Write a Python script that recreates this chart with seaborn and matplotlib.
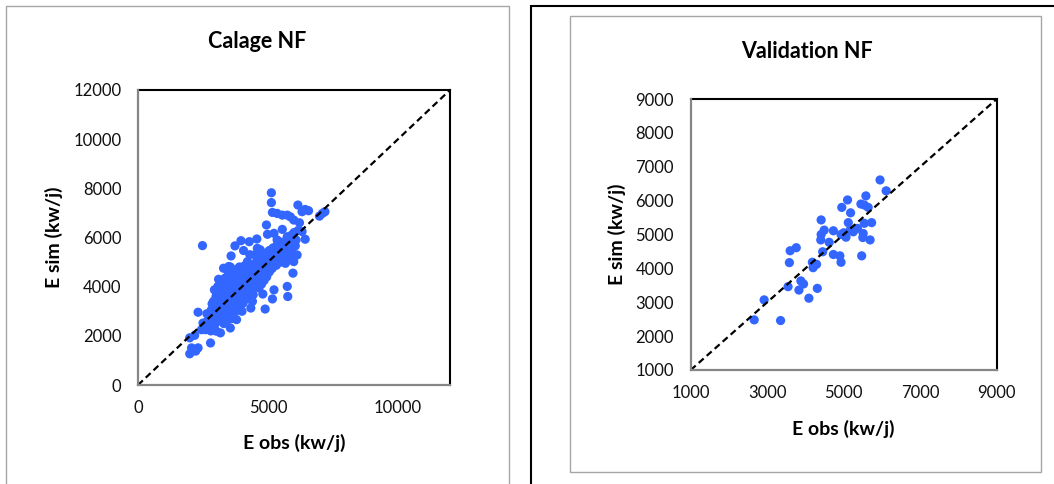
import numpy as np
import pandas as pd
import matplotlib
matplotlib.use("Agg")
import matplotlib.pyplot as plt
from matplotlib.patches import Rectangle
import seaborn as sns

# Calage NF : E obs / E sim (kw/j)
calage_obs = [5130, 5130, 5170, 5350, 5550, 5740, 5860, 6150, 6310, 6430, 6560, 6980, 7190, 7090,
              5990, 6210, 6310, 6430, 6050, 5950, 6120, 5990, 5670, 5960, 5740, 5760, 5170, 4890,
              2480, 4940, 4980, 4570, 4280, 3960, 3730, 4060, 3580, 4590, 5230, 5550, 5350, 5740,
              5550, 5100, 4850, 4210, 3290, 3490, 3640, 3390, 3810, 2940, 3070, 3710, 4430, 5230,
              4340, 3790, 3550, 3170, 2790, 2310, 2180, 1990, 2060, 2310, 2220, 1990, 2440, 2500,
              2690, 2840, 3010,
              2750, 2820, 2870, 2910, 2960, 3010, 3040, 3080, 3120, 3150, 3190, 3230, 3260, 3290,
              3320, 3350, 3380, 3410, 3440, 3470, 3500, 3530, 3560, 3590, 3620, 3650, 3680, 3710,
              3740, 3770, 3800, 3830, 3860, 3890, 3920, 3950, 3980, 4010, 4040, 4070, 4100, 4130,
              4160, 4190, 4220, 4250, 4280, 4310, 4340, 4370, 4400, 4430, 4460, 4490, 4520, 4550,
              4580, 4610, 4640, 4670, 4700, 4730, 4760, 4790, 4820, 4850, 4880, 4910, 4940, 4970,
              5000, 5040, 5080, 5120, 5160, 5200, 5240, 5280, 5320, 5360, 5400, 5450, 5500, 5550,
              5600, 5650, 5700, 5750, 5800, 5850, 5900, 5950, 6000, 6080, 6150,
              3100, 3200, 3300, 3400, 3500, 3600, 3700, 3800, 3900, 4000, 4100, 4200, 4300, 4400,
              4500, 4600, 4700, 4800, 2900, 3000, 3100, 3200, 3300, 3350, 3450, 3550, 3400, 3600,
              3700, 3800, 3900, 4000, 4100, 4200, 3200, 3300, 3500, 3650, 3750, 3850, 3950, 4050,
              4150, 4250, 4350, 4450, 4550, 4650, 4750, 4850, 4950, 5050, 2700, 2600, 2950, 3050,
              2650, 2850,
              3300, 3600, 4000, 4400, 4800, 3100, 3500, 3900, 4300, 4700, 4500, 3800, 2800, 3400]
calage_sim = [7820, 7420, 7020, 6980, 6910, 6910, 6840, 7320, 7050, 7140, 7090, 6870, 7050, 6980,
              6710, 6600, 6240, 5930, 5660, 5290, 5290, 5020, 4950, 4550, 4010, 3600, 3500, 3090,
              5670, 6510, 6130, 5940, 5830, 5870, 5660, 5470, 5250, 5560, 6170, 6330, 5900, 6030,
              5360, 5490, 5220, 5020, 4750, 4820, 4550, 4280, 4580, 3870, 4010, 4040, 3670, 3870,
              3130, 2660, 2320, 2120, 1710, 2960, 2020, 1920, 1510, 1510, 1380, 1270, 2250, 2520,
              2630, 2320, 2190,
              2780, 3050, 2560, 2880, 3230, 2940, 3420, 2760, 3150, 3660, 2980, 3340, 3820, 3090,
              3560, 2870, 3750, 3270, 4060, 3480, 3110, 3900, 3640, 3330, 4180, 3720, 3050, 3480,
              3910, 3240, 3660, 4150, 3420, 3830, 3140, 4320, 3610, 3950, 3330, 4480, 3780, 4150,
              3500, 4620, 3990, 4330, 3720, 4760, 4150, 4490, 3880, 4870, 4290, 4620, 4060, 5010,
              4420, 4760, 4190, 5120, 4560, 4890, 4330, 5240, 4680, 5020, 4470, 5350, 4800, 5140,
              4600, 5460, 4930, 5260, 4740, 5580, 5060, 5390, 4870, 5700, 5190, 5520, 5000, 5810,
              5330, 5640, 5150, 5930, 5460, 5780, 6090, 5580, 6200, 5900, 6280,
              3000, 3200, 3300, 3450, 3600, 3500, 3800, 3900, 4000, 4100, 4200, 4300, 4400, 4550,
              4400, 4500, 4750, 4900, 3400, 3600, 3800, 3950, 4050, 4350, 4650, 4800, 3900, 3900,
              4200, 4300, 4400, 4650, 4850, 4950, 2600, 2750, 2900, 3200, 3000, 3100, 3300, 3450,
              3650, 3550, 3800, 3950, 4150, 3950, 4100, 4250, 4400, 4600, 2400, 2250, 2450, 2600,
              2900, 3300,
              2500, 2700, 3000, 3400, 3700, 4300, 4300, 4800, 5300, 5500, 5300, 4700, 2200, 2600]

# Validation NF
valid_obs = [2660, 2920, 3350, 3545, 3600, 3760, 3580, 3830, 3880, 3950, 4090, 4310, 4180, 4200,
             4290, 4410, 4410, 4490, 4400, 4450, 4620, 4730, 4730, 4900, 4930, 4950, 5100, 5180,
             4930, 5060, 5120, 5170, 5250, 5360, 5450, 5580, 5640, 5540, 5540, 5730, 5510, 5500,
             5690, 5470, 5950, 6110, 5000]
valid_sim = [2480, 3070, 2460, 3460, 4520, 4610, 4170, 3360, 3630, 3540, 3120, 3410, 4180, 4020,
             4120, 5430, 5000, 5130, 4840, 4490, 4770, 5110, 4410, 4370, 4180, 5800, 6020, 5640,
             5000, 4920, 5350, 5130, 5080, 5180, 5900, 6140, 5800, 5870, 5330, 5350, 5030, 4910,
             4840, 4370, 6610, 6290, 5050]

df_cal = pd.DataFrame({"obs": calage_obs, "sim": calage_sim})
df_val = pd.DataFrame({"obs": valid_obs, "sim": valid_sim})

sns.set_theme(style="white")
plt.rcParams['font.family'] = ['Lato', 'DejaVu Sans']

W, H = 1054, 484
fig = plt.figure(figsize=(W / 100, H / 100), dpi=100)

# cadres des deux graphiques (style Excel)
fig.add_artist(Rectangle((6 / W, -0.05), (509 - 6) / W, 1.05 - 6 / H, transform=fig.transFigure,
                         fill=False, edgecolor='#a6a6a6', lw=1.0))
fig.add_artist(Rectangle((531 / W, -0.05), 0.6, 1.05 - 6 / H, transform=fig.transFigure,
                         fill=False, edgecolor='black', lw=1.5))
fig.add_artist(Rectangle((570 / W, 1 - 472 / H), (1041 - 570) / W, (472 - 16) / H,
                         transform=fig.transFigure, fill=False, edgecolor='#a6a6a6', lw=1.0))

ax1 = fig.add_axes([138 / W, 1 - 385 / H, (450 - 138) / W, (385 - 90) / H])
ax2 = fig.add_axes([690.7 / W, 1 - 370 / H, (996.7 - 690.7) / W, (370 - 99) / H])


def style_ax(ax, lims, xticks, yticks):
    ax.set_xlim(lims)
    ax.set_ylim(lims)
    ax.set_xticks(xticks)
    ax.set_yticks(yticks)
    for s in ['top', 'right']:
        ax.spines[s].set_color('black')
        ax.spines[s].set_linewidth(1.5)
    for s in ['left', 'bottom']:
        ax.spines[s].set_color('#868686')
        ax.spines[s].set_linewidth(1.6)
        ax.spines[s].set_zorder(5)
    ax.tick_params(direction='out', length=4, width=1, color='#868686', labelsize=12,
                   labelcolor='#111111')
    ax.tick_params(axis='y', pad=8)
    ax.tick_params(axis='x', pad=7)
    ax.plot(lims, lims, ls=(0, (3, 1.8)), color='black', lw=1.6, zorder=3)


sns.scatterplot(data=df_cal, x="obs", y="sim", ax=ax1, color='#3366ff', s=44,
                edgecolor='none', linewidth=0, zorder=2)
style_ax(ax1, (0, 12000), [0, 5000, 10000], range(0, 12001, 2000))

sns.scatterplot(data=df_val, x="obs", y="sim", ax=ax2, color='#3366ff', s=44,
                edgecolor='none', linewidth=0, zorder=2)
style_ax(ax2, (1000, 9000), range(1000, 9001, 2000), range(1000, 9001, 1000))

lab = dict(fontsize=14, fontweight='bold', color='black')
ax1.set_xlabel("E obs (kw/j)", va='center', **lab)
ax1.set_ylabel("E sim (kw/j)", va='center', **lab)
ax1.xaxis.set_label_coords(0.5, -0.197)
ax1.yaxis.set_label_coords(-0.269, 0.5)
ax2.set_xlabel("E obs (kw/j)", va='center', **lab)
ax2.set_ylabel("E sim (kw/j)", va='center', **lab)
ax2.xaxis.set_label_coords(0.5, -0.218)
ax2.yaxis.set_label_coords(-0.241, 0.5)

fig.text(257 / W, 1 - 42 / H, "Calage NF", ha='center', va='center', fontsize=15.5,
         fontweight='bold', color='black')
fig.text(807 / W, 1 - 52 / H, "Validation NF", ha='center', va='center', fontsize=15.5,
         fontweight='bold', color='black')

fig.savefig("out.png", dpi=100)
